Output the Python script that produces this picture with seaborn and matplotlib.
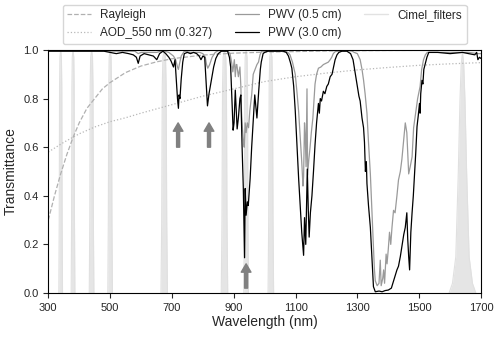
import numpy as np
import matplotlib
matplotlib.use("Agg")
import matplotlib.pyplot as plt
import seaborn as sns

sns.set_style("ticks")
plt.rcParams["font.family"] = ["Liberation Sans", "DejaVu Sans"]

# ---------------------------------------------------------
# DATA
# ---------------------------------------------------------
# Rayleigh transmittance
ray_wl = [300, 320, 340, 360, 380, 400, 425, 450, 475, 500, 550, 600, 650,
          700, 800, 900, 1000, 1200, 1400, 1700]
ray_t = [0.30, 0.40, 0.49, 0.57, 0.64, 0.70, 0.76, 0.80, 0.84, 0.866, 0.907,
         0.934, 0.951, 0.964, 0.979, 0.987, 0.991, 0.996, 0.998, 0.999]

# aerosol transmittance, AOD_550 = 0.327
aod_wl = [300, 350, 400, 450, 500, 550, 600, 700, 800, 900, 1000, 1100,
          1200, 1300, 1400, 1500, 1600, 1700]
aod_t = [0.58, 0.62, 0.655, 0.683, 0.705, 0.721, 0.74, 0.775, 0.81, 0.84,
         0.87, 0.89, 0.905, 0.918, 0.928, 0.937, 0.943, 0.948]

# water vapour transmittance, PWV = 0.5 cm
pwv05_wl = [300, 580, 591, 600, 651, 671, 690, 705, 712, 718, 721, 724, 730,
            740, 760, 790, 800, 808, 812, 816, 822, 830, 840, 850, 880, 888,
            893, 897, 899, 902, 905, 908, 910, 915, 920, 923, 925, 928, 931,
            934, 937, 940, 944, 948, 952, 958, 963, 969, 975, 980, 985, 990,
            1060, 1075, 1082, 1090, 1099, 1105, 1110, 1115, 1120, 1124, 1126,
            1129, 1131, 1134, 1137, 1139, 1143, 1147, 1151, 1156, 1160, 1163,
            1168, 1174, 1182, 1190, 1198, 1206, 1212, 1217, 1222, 1228, 1244,
            1280, 1290, 1300, 1309, 1315, 1320, 1325, 1331, 1336, 1342, 1347,
            1352, 1355, 1358, 1364, 1370, 1374, 1377, 1382, 1385, 1388, 1393,
            1396, 1400, 1404, 1408, 1412, 1417, 1422, 1428, 1433, 1439, 1444,
            1450, 1455, 1460, 1466, 1471, 1477, 1482, 1487, 1495, 1503, 1508,
            1514, 1520, 1526, 1600, 1660, 1690, 1700]
pwv05_t = [0.997, 0.995, 0.985, 0.99, 0.99, 0.997, 0.99, 0.975, 0.96, 0.93,
           0.92, 0.94, 0.975, 0.995, 0.99, 0.99, 0.985, 0.97, 0.94, 0.925,
           0.94, 0.97, 0.99, 0.997, 0.997, 0.985, 0.95, 0.91, 0.93, 0.96,
           0.89, 0.94, 0.94, 0.89, 0.93, 0.85, 0.75, 0.68, 0.63, 0.60, 0.70,
           0.66, 0.70, 0.68, 0.75, 0.815, 0.90, 0.92, 0.94, 0.95, 0.98, 0.995,
           0.997, 0.99, 0.98, 0.95, 0.90, 0.82, 0.746, 0.64, 0.54, 0.44, 0.48,
           0.70, 0.66, 0.52, 0.84, 0.485, 0.55, 0.60, 0.66, 0.72, 0.80, 0.86,
           0.90, 0.925, 0.93, 0.94, 0.945, 0.95, 0.96, 0.97, 0.985, 0.993,
           0.997, 0.997, 0.99, 0.985, 0.96, 0.92, 0.876, 0.82, 0.74, 0.62,
           0.49, 0.34, 0.19, 0.10, 0.05, 0.03, 0.04, 0.135, 0.03, 0.06, 0.095,
           0.04, 0.16, 0.12, 0.18, 0.25, 0.20, 0.27, 0.34, 0.33, 0.40, 0.465,
           0.50, 0.55, 0.63, 0.70, 0.66, 0.49, 0.52, 0.56, 0.68, 0.725, 0.80,
           0.85, 0.92, 0.96, 0.98, 0.99, 0.99, 0.99, 0.985, 0.985]

# water vapour transmittance, PWV = 3.0 cm
pwv30_wl = [300, 480, 500, 520, 540, 560, 575, 585, 591, 597, 610, 625, 640,
            651, 660, 671, 680, 690, 697, 705, 710, 715, 718, 721, 723, 726,
            730, 735, 740, 750, 760, 770, 780, 788, 794, 800, 806, 810, 815,
            820, 828, 835, 842, 850, 860, 880, 886, 890, 894, 898, 901, 905,
            908, 911, 915, 920, 923, 927, 931, 935, 937, 940, 944, 947, 953,
            958, 963, 968, 975, 981, 986, 989, 995, 1000, 1010, 1060, 1070,
            1077, 1083, 1088, 1094, 1099, 1105, 1110, 1115, 1120, 1126, 1129,
            1133, 1138, 1141, 1144, 1148, 1153, 1158, 1163, 1168, 1174, 1177,
            1180, 1184, 1190, 1195, 1201, 1206, 1212, 1218, 1223, 1228, 1234,
            1240, 1250, 1266, 1278, 1286, 1293, 1300, 1305, 1309, 1315, 1320,
            1323, 1326, 1329, 1331, 1336, 1342, 1347, 1352, 1358, 1370, 1380,
            1390, 1400, 1410, 1417, 1422, 1428, 1433, 1439, 1445, 1450, 1455,
            1460, 1463, 1466, 1469, 1473, 1477, 1481, 1484, 1489, 1493, 1497,
            1501, 1503, 1505, 1509, 1512, 1515, 1520, 1525, 1531, 1560, 1600,
            1640, 1660, 1680, 1686, 1690, 1695, 1700]
pwv30_t = [0.995, 0.995, 0.99, 0.985, 0.99, 0.985, 0.98, 0.97, 0.945, 0.975,
           0.985, 0.98, 0.975, 0.96, 0.985, 0.995, 0.985, 0.97, 0.955, 0.93,
           0.96, 0.86, 0.80, 0.76, 0.815, 0.80, 0.88, 0.95, 0.985, 0.99,
           0.985, 0.99, 0.985, 0.975, 0.96, 0.975, 0.97, 0.88, 0.77, 0.82,
           0.88, 0.93, 0.965, 0.985, 0.995, 0.995, 0.97, 0.93, 0.80, 0.67,
           0.70, 0.835, 0.75, 0.675, 0.72, 0.80, 0.815, 0.60, 0.43, 0.145,
           0.43, 0.32, 0.375, 0.36, 0.47, 0.60, 0.71, 0.815, 0.72, 0.835,
           0.92, 0.95, 0.985, 0.99, 0.995, 0.995, 0.99, 0.975, 0.95, 0.925,
           0.85, 0.75, 0.60, 0.47, 0.36, 0.25, 0.155, 0.31, 0.20, 0.51, 0.35,
           0.23, 0.33, 0.40, 0.50, 0.61, 0.70, 0.78, 0.74, 0.80, 0.79, 0.83,
           0.82, 0.85, 0.86, 0.89, 0.90, 0.93, 0.96, 0.98, 0.99, 0.995, 0.995,
           0.985, 0.96, 0.905, 0.85, 0.81, 0.79, 0.72, 0.68, 0.62, 0.50, 0.54,
           0.45, 0.36, 0.27, 0.15, 0.026, 0.005, 0.008, 0.005, 0.01, 0.012,
           0.02, 0.05, 0.07, 0.095, 0.11, 0.15, 0.20, 0.24, 0.27, 0.33, 0.22,
           0.15, 0.095, 0.25, 0.33, 0.40, 0.465, 0.58, 0.685, 0.73, 0.78,
           0.74, 0.82, 0.875, 0.86, 0.92, 0.945, 0.97, 0.99, 0.99, 0.985,
           0.99, 0.985, 0.98, 0.99, 0.96, 0.97, 0.965]

# Cimel filters: centre, FWHM (nm), peak transmittance, profile kind
filt_center = [340, 380, 440, 500, 675, 870, 940, 1020, 1640]
filt_fwhm = [8, 8, 10, 10, 14, 14, 10, 12, 27]
filt_peak = [1.0, 1.0, 1.0, 1.0, 1.0, 1.0, 1.0, 1.0, 0.99]
filt_kind = ["box", "box", "box", "box", "box", "box", "box", "box", "peak"]
# normalised profiles (offset in units of FWHM, relative height)
box_off = [-0.75, -0.58, -0.45, -0.3, 0, 0.3, 0.45, 0.58, 0.75]
box_rel = [0.0, 0.3, 0.85, 0.97, 1.0, 0.97, 0.85, 0.3, 0.0]
peak_off = [-1.6, -1.2, -0.8, -0.5, -0.3, -0.15, 0, 0.15, 0.3, 0.5, 0.8, 1.2, 1.6]
peak_rel = [0.0, 0.04, 0.15, 0.5, 0.8, 0.95, 1.0, 0.95, 0.8, 0.5, 0.15, 0.04, 0.0]
profiles = {"box": (box_off, box_rel), "peak": (peak_off, peak_rel)}

# arrows marking water vapour bands
arrow_wl = [720, 820, 940]
arrow_tail = [0.60, 0.60, 0.02]
arrow_head = [0.70, 0.70, 0.12]

# ---------------------------------------------------------
# PLOT
# ---------------------------------------------------------
fig = plt.figure(figsize=(5, 3.37), dpi=100)
ax = fig.add_axes([0.0966, 0.1306, 0.8654, 0.7211])

for c, w, p, k in zip(filt_center, filt_fwhm, filt_peak, filt_kind):
    off, rel = profiles[k]
    fx = [c + o * w for o in off]
    fy = [p * r for r in rel]
    ax.fill_between(fx, 0, fy, color="#d4d4d4", alpha=0.6, lw=0)
    ax.plot(fx, fy, color="#e0e0e0", lw=0.8)

sns.lineplot(x=ray_wl, y=ray_t, ax=ax, color="#b0b0b0", lw=0.9,
             linestyle="--", sort=False, estimator=None, label="Rayleigh")
sns.lineplot(x=aod_wl, y=aod_t, ax=ax, color="#b8b8b8", lw=0.9,
             linestyle=":", sort=False, estimator=None,
             label="AOD_550 nm (0.327)")
sns.lineplot(x=pwv05_wl, y=pwv05_t, ax=ax, color="#9a9a9a", lw=0.9,
             sort=False, estimator=None, label="PWV (0.5 cm)")
sns.lineplot(x=pwv30_wl, y=pwv30_t, ax=ax, color="black", lw=0.9,
             sort=False, estimator=None, label="PWV (3.0 cm)")
filt_handle, = ax.plot([], [], color="#e2e2e2", lw=1, label="Cimel_filters")

for wl, t0, t1 in zip(arrow_wl, arrow_tail, arrow_head):
    ax.annotate("", xy=(wl, t1), xytext=(wl, t0),
                arrowprops=dict(facecolor="#808080", edgecolor="#808080",
                                width=2.2, headwidth=7, headlength=6))

ax.set_xlim(300, 1700)
ax.set_ylim(0, 1.0)
ax.set_xticks(range(300, 1701, 200))
ax.set_yticks([0, 0.2, 0.4, 0.6, 0.8, 1.0])
ax.tick_params(labelsize=8, length=3.5, width=0.8)
ax.set_xlabel("Wavelength (nm)", fontsize=10, labelpad=2)
ax.set_ylabel("Transmittance", fontsize=10, labelpad=4)
for s in ax.spines.values():
    s.set_linewidth(0.8)
    s.set_color("black")

handles, labels = ax.get_legend_handles_labels()
order = ["Rayleigh", "AOD_550 nm (0.327)", "PWV (0.5 cm)", "PWV (3.0 cm)",
         "Cimel_filters"]
hmap = dict(zip(labels, handles))
ax.legend([hmap[k] for k in order], order, ncol=3, loc="lower center",
          bbox_to_anchor=(0.5, 1.025), fontsize=8.5, frameon=True,
          edgecolor="#cccccc", columnspacing=1.9, borderaxespad=0)

fig.savefig("out.png", dpi=100)
